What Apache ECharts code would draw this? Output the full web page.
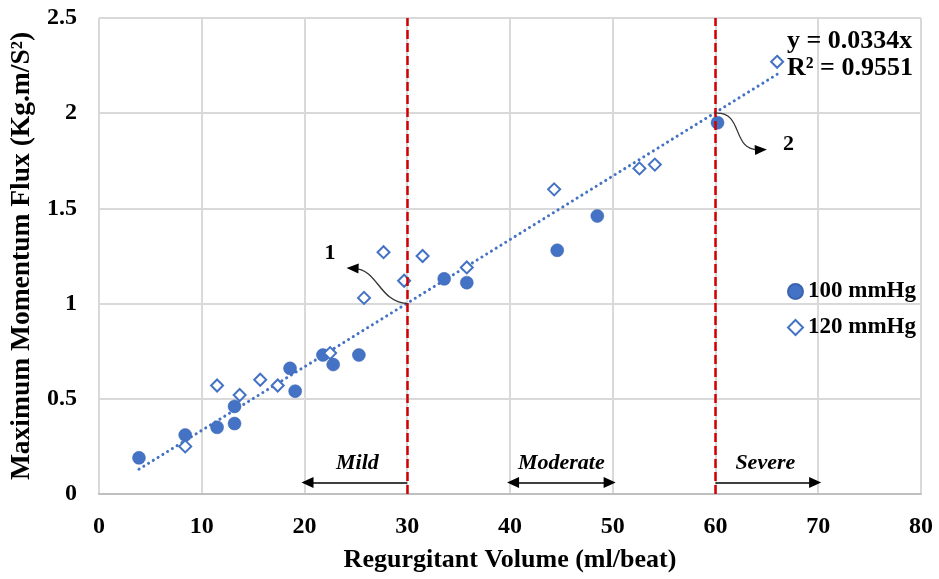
<!DOCTYPE html>
<html>
<head>
<meta charset="utf-8">
<script src="https://cdn.jsdelivr.net/npm/echarts@6/dist/echarts.min.js"></script>
<style>
html,body{margin:0;padding:0;background:#fff;}
#c{width:939px;height:579px;}
</style>
</head>
<body>
<div id="c"></div>
<script>
// ---- data ----
const x100 = [3.9, 8.4, 11.5, 13.2, 13.2, 18.6, 19.1, 21.8, 22.8, 25.3, 33.6, 35.8, 44.6, 48.5, 60.2];
const y100 = [0.19, 0.31, 0.35, 0.46, 0.37, 0.66, 0.54, 0.73, 0.68, 0.73, 1.13, 1.11, 1.28, 1.46, 1.95];
const x120 = [8.4, 11.5, 13.7, 15.7, 17.4, 22.5, 25.8, 27.7, 29.7, 31.5, 35.8, 44.3, 52.6, 54.1, 66.0];
const y120 = [0.25, 0.57, 0.52, 0.60, 0.57, 0.74, 1.03, 1.27, 1.12, 1.25, 1.19, 1.60, 1.71, 1.73, 2.27];
const seriesNames = ['100 mmHg', '120 mmHg'];
const trendSlope = 0.0334;
const trendR2 = 0.9551;
const trendRange = [3.9, 66];
const thresholds = [30, 60];
const severityNames = ['Mild', 'Moderate', 'Severe'];
const severityRanges = [[30, 20.3], [40.3, 49.7], [60, 69.7]];
const severityArrowY = 0.06;
const xTicks = [0, 80, 10];
const yTicks = [0, 2.5, 0.5];

const FONT = '"Liberation Serif","Times New Roman",serif';
const BLUE = '#4472C4';

const chart = echarts.init(document.getElementById('c'), null, {renderer: 'canvas'});

const sevMarks = severityRanges.map((r, i) => {
  const sym = i === 0 ? ['none', 'triangle'] : (i === 1 ? ['triangle', 'triangle'] : ['none', 'triangle']);
  return [
    {coord: [r[0], severityArrowY], symbol: sym[0], name: severityNames[i],
     label: {show: true, formatter: severityNames[i], position: 'insideMiddleTop', distance: 8,
             fontFamily: FONT, fontWeight: 'bold', fontStyle: 'italic', fontSize: 22, color: '#000'},
     lineStyle: {color: '#000', width: 1.5, type: 'solid'}},
    {coord: [r[1], severityArrowY], symbol: sym[1]}
  ];
});

const option = {
  animation: false,
  backgroundColor: '#fff',
  grid: {left: 97, right: 18, top: 18, bottom: 85, containLabel: false},
  xAxis: {
    type: 'value', min: xTicks[0], max: xTicks[1], interval: xTicks[2],
    name: 'Regurgitant Volume (ml/beat)', nameLocation: 'middle', nameGap: 53,
    nameTextStyle: {fontFamily: FONT, fontWeight: 'bold', fontSize: 26, color: '#000'},
    axisLine: {show: true, lineStyle: {color: '#bfbfbf', width: 2}},
    axisTick: {show: false},
    axisLabel: {margin: 21, fontFamily: FONT, fontWeight: 'bold', fontSize: 24, color: '#000'},
    splitLine: {show: true, lineStyle: {color: '#d9d9d9', width: 2}}
  },
  yAxis: {
    type: 'value', min: yTicks[0], max: yTicks[1], interval: yTicks[2],
    name: 'Maximum Momentum Flux (Kg.m/S²)', nameLocation: 'middle', nameGap: 60, nameRotate: 90,
    nameTextStyle: {fontFamily: FONT, fontWeight: 'bold', fontSize: 27.5, color: '#000'},
    axisLine: {show: false},
    axisTick: {show: false},
    axisLabel: {margin: 22, fontFamily: FONT, fontWeight: 'bold', fontSize: 24, color: '#000'},
    splitLine: {show: true, lineStyle: {color: '#d9d9d9', width: 2}}
  },
  legend: {
    orient: 'vertical', left: 782, top: 275, itemGap: 13, itemWidth: 15, itemHeight: 15,
    data: seriesNames,
    textStyle: {fontFamily: FONT, fontWeight: 'bold', fontSize: 23, color: '#000'}
  },
  series: [
    {
      name: 'trend', type: 'line', silent: true, showSymbol: false, symbol: 'none',
      data: trendRange.map(x => [x, trendSlope * x]),
      lineStyle: {color: BLUE, width: 3, type: [0.1, 5.5], cap: 'round'},
      z: 3,
      markLine: {
        silent: true, symbol: 'none', symbolSize: [11, 12], animation: false,
        data: [
          ...thresholds.map(t => ({xAxis: t, label: {show: false},
             lineStyle: {color: '#d00000', width: 2.5, type: [9, 4]}})),
          ...sevMarks
        ]
      }
    },
    {
      name: seriesNames[0], type: 'scatter', symbol: 'circle', symbolSize: 13,
      data: x100.map((x, i) => [x, y100[i]]),
      itemStyle: {color: BLUE, opacity: 1, borderColor: '#3a64b0', borderWidth: 0.5},
      z: 4
    },
    {
      name: seriesNames[1], type: 'scatter', symbol: 'diamond', symbolSize: 12,
      data: x120.map((x, i) => [x, y120[i]]),
      itemStyle: {color: '#fff', opacity: 1, borderColor: BLUE, borderWidth: 2},
      z: 4
    }
  ]
};
chart.setOption(option);

// ---- annotations (anchored in data coordinates) ----
const curvedArrows = [
  {from: [30, 1.0], c1: [27.2, 1.01], c2: [27.2, 1.18], to: [24.1, 1.187], label: '1', labelAt: [22.5, 1.265]},
  {from: [60, 2.0], c1: [62.8, 2.01], c2: [61.5, 1.80], to: [65.0, 1.81], label: '2', labelAt: [67.1, 1.838]}
];
const px = p => chart.convertToPixel({gridIndex: 0}, p);
const graphics = [];
curvedArrows.forEach(a => {
  const p0 = px(a.from), p1 = px(a.c1), p2 = px(a.c2), tip = px(a.to);
  let dx = tip[0] - p2[0], dy = tip[1] - p2[1];
  const len = Math.hypot(dx, dy); dx /= len; dy /= len;
  const L = 12, W = 10;
  const base = [tip[0] - dx * L, tip[1] - dy * L];
  const end = [tip[0] - dx * L * 0.6, tip[1] - dy * L * 0.6];
  graphics.push({
    type: 'bezierCurve', silent: true, z: 10,
    shape: {x1: p0[0], y1: p0[1], cpx1: p1[0], cpy1: p1[1], cpx2: p2[0], cpy2: p2[1], x2: end[0], y2: end[1]},
    style: {stroke: '#333', lineWidth: 1.3, fill: null}
  });
  graphics.push({
    type: 'polygon', silent: true, z: 10,
    shape: {points: [tip, [base[0] - dy * W / 2, base[1] + dx * W / 2], [base[0] + dy * W / 2, base[1] - dx * W / 2]]},
    style: {fill: '#000'}
  });
  const lp = px(a.labelAt);
  graphics.push({
    type: 'text', silent: true, z: 10, x: lp[0], y: lp[1],
    style: {text: a.label, fontFamily: FONT, fontWeight: 'bold', fontSize: 22, fill: '#000', align: 'center', verticalAlign: 'middle'}
  });
});
graphics.push({
  type: 'text', silent: true, z: 10, left: 787, top: 28,
  style: {text: 'y = ' + trendSlope + 'x', fontFamily: FONT, fontWeight: 'bold', fontSize: 26, fill: '#000'}
});
graphics.push({
  type: 'text', silent: true, z: 10, left: 787, top: 55,
  style: {text: 'R² = ' + trendR2, fontFamily: FONT, fontWeight: 'bold', fontSize: 26, fill: '#000'}
});
chart.setOption({graphic: graphics});
</script>
</body>
</html>
